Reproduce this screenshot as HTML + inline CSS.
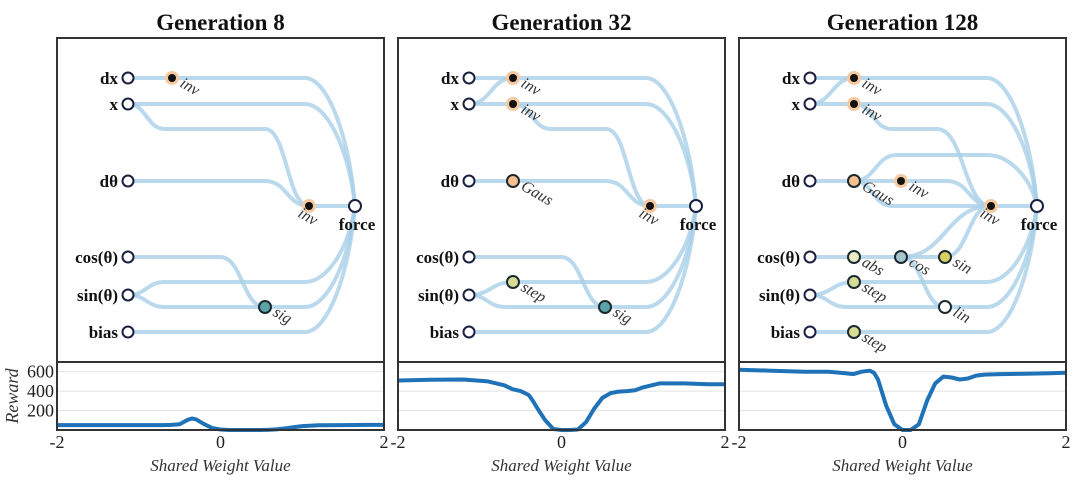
<!DOCTYPE html>
<html><head><meta charset="utf-8"><style>
body{margin:0;background:#fff;width:1080px;height:481px;overflow:hidden}
svg{display:block;font-family:"Liberation Serif",serif}
</style></head><body>
<svg id="fig" width="1080" height="481" viewBox="0 0 1080 481"></svg>
<script>
const xTicks=[-2,0,2];
const yTicks=[200,400,600];
const weights=[-2,-1.6,-1.2,-0.9,-0.7,-0.6,-0.5,-0.4,-0.35,-0.3,-0.2,-0.1,0,0.1,0.2,0.3,0.4,0.5,0.6,0.7,0.8,0.9,1,1.2,1.5,1.8,2];
const reward8=[50,50,50,50,50,52,60,105,118,110,60,20,5,0,0,0,0,0,2,8,18,30,40,48,50,52,52];
const reward32=[510,518,520,500,460,420,400,360,300,230,100,10,0,0,5,80,220,330,380,395,400,410,440,480,480,470,470];
const reward128=[620,610,600,600,585,575,600,610,590,520,250,60,0,0,60,300,480,550,540,520,530,560,570,575,580,585,590];
const titles=["Generation 8","Generation 32","Generation 128"];
const S="http://www.w3.org/2000/svg";
const svg=document.getElementById('fig');
function el(t,a,p){const e=document.createElementNS(S,t);for(const k in a)e.setAttribute(k,a[k]);(p||svg).appendChild(e);return e;}
const panels=[57,398,739], PW=327;
const inputs=[["dx",78],["x",104],["dθ",181],["cos(θ)",257],["sin(θ)",295],["bias",332]];
const IX=128, FX=355, FY=206;
const INV="#111";
const hidden=[
 {inv1:[172,78,"inv",INV],inv2:[309,206,"inv",INV],sig:[265,307,"sig","#5ba3a8"]},
 {inv1:[172,78,"inv",INV],inv1b:[172,104,"inv",INV],gaus:[172,181,"Gaus","#f5c08e"],inv2:[309,206,"inv",INV],step:[172,282,"step","#d6dc94"],sig:[264,307,"sig","#5ba3a8"]},
 {inv1:[172,78,"inv",INV],inv1b:[172,104,"inv",INV],gaus:[172,181,"Gaus","#f5c08e"],inv3:[219,181,"inv",INV],inv2:[309,206,"inv",INV],abs:[172,257,"abs","#e8ecc0"],cos:[219,257,"cos","#a8c4cc"],sin:[263,257,"sin","#d8d060"],step:[172,282,"step","#d6dc94"],lin:[263,307,"lin","#fff"],step2:[172,332,"step","#d6dc94"]}
];
const F=[FX,FY];
function routes(i,h){
 const I=k=>[IX,inputs[k][1]], H=n=>[h[n][0],h[n][1]];
 if(i===0) return [
  [I(0),H('inv1'),[305,78],F],[I(1),[305,104],F],[I(1),[165,129],[265,129],H('inv2')],
  [I(2),[265,181],H('inv2')],[H('inv2'),F],[I(3),[220,257],H('sig')],[I(4),[165,282],[305,282],F],
  [I(4),[165,307],H('sig')],[H('sig'),[305,307],F],[I(5),[305,332],F]];
 if(i===1) return [
  [I(0),H('inv1'),[305,78],F],[I(1),H('inv1b')],[I(1),H('inv1')],[H('inv1b'),[305,104],F],[H('inv1b'),[210,129],[265,129],H('inv2')],
  [I(2),H('gaus')],[H('gaus'),[265,181],H('inv2')],[H('inv2'),F],[I(3),[220,257],H('sig')],[I(4),H('step')],[H('step'),[210,282],[305,282],F],
  [I(4),[165,307],H('sig')],[H('sig'),[305,307],F],[I(5),[305,332],F]];
 return [
  [I(0),H('inv1'),[305,78],F],[I(1),H('inv1b')],[I(1),H('inv1')],[H('inv1b'),[305,104],F],[H('inv1b'),[210,129],[255,129],H('inv2')],
  [I(2),H('gaus')],[H('gaus'),[215,155],[305,155],F],[H('gaus'),H('inv3')],[H('inv3'),[265,181],H('inv2')],[H('gaus'),[210,206],H('inv2')],[H('inv2'),F],
  [I(3),H('abs')],[H('abs'),H('cos')],[H('cos'),H('sin')],[H('cos'),H('inv2')],[H('sin'),H('inv2')],[H('cos'),H('lin')],[H('lin'),[305,307],F],
  [I(4),H('step')],[H('step'),[305,282],F],[I(4),[165,307],[263,307]],[I(5),H('step2')],[H('step2'),[305,332],F]];
}
function seg(a,b){
 if(Math.abs(a[1]-b[1])<1) return ` L${b[0]},${b[1]}`;
 const dx=b[0]-a[0];
 if(b[0]===FX && b[1]===FY && Math.abs(dx)<60) return ` C${a[0]+dx*0.45},${a[1]} ${b[0]-6},${b[1]+(a[1]-b[1])*0.55} ${b[0]},${b[1]}`;
 return ` C${a[0]+dx*0.5},${a[1]} ${a[0]+dx*0.5},${b[1]} ${b[0]},${b[1]}`;
}
panels.forEach((ox,i)=>{
 const g=el('g',{transform:`translate(${ox-57},0)`});
 
 
 const t=el('text',{x:57+PW/2,y:30,'text-anchor':'middle','font-size':23,'font-weight':'bold',fill:'#111'},g);t.textContent=titles[i];
 
 el('rect',{x:57,y:38,width:PW,height:324,fill:'none',stroke:'#333','stroke-width':2},g);
 const eg=el('g',{fill:'none',stroke:'#a9cfe9','stroke-width':4,'stroke-opacity':0.8,'stroke-linecap':'round'},g);
 
 routes(i,hidden[i]).forEach(pts=>{let d=`M${pts[0][0]},${pts[0][1]}`;for(let k=1;k<pts.length;k++)d+=seg(pts[k-1],pts[k]);
  const p=el('path',{d},eg);});
 inputs.forEach(([l,y])=>{
  const c=el('circle',{cx:IX,cy:y,r:5.5,fill:'#fff',stroke:'#1a2040','stroke-width':2},g);
  
  const tx=el('text',{x:118,y:y+6,'text-anchor':'end','font-size':17,'font-weight':'bold',fill:'#111'},g);tx.textContent=l;
  
 });
 el('circle',{cx:FX,cy:FY,r:6,fill:'#fff',stroke:'#1a2040','stroke-width':2},g);
 const fl=el('text',{x:FX+2,y:FY+24,'text-anchor':'middle','font-size':17,'font-weight':'bold',fill:'#111'},g);fl.textContent='force';
 
 Object.values(hidden[i]).forEach(([x,y,l,f])=>{
  if(f===INV) el('circle',{cx:x,cy:y,r:7,fill:'#f6c9a0'},g);
  const c=el('circle',{cx:x,cy:y,r:f===INV?4:6,fill:f,stroke:f===INV?'none':'#1a2a30','stroke-width':2},g);
  
  const below=(l==='inv'&&x===309);
  const tx=el('text',{x:below?x-12:x+7,y:below?y+10:y+8,'font-size':16,'font-style':'italic',fill:'#333',transform:`rotate(30 ${below?x-12:x+7} ${below?y+10:y+8})`},g);
  tx.textContent=l;
 });
 const X0=57,X1=57+PW,Y0=430,Y1=362;
 const sx=v=>X0+(v+2)/4*(X1-X0), sy=v=>Y0-v/700*(Y0-Y1);
 yTicks.forEach(v=>{el('line',{x1:X0,x2:X1,y1:sy(v),y2:sy(v),stroke:'#e2e2e2','stroke-width':1},g);});
 if(i===0) yTicks.forEach(v=>{const tx=el('text',{x:X0-3,y:sy(v)+6,'text-anchor':'end','font-size':18,fill:'#222'},g);tx.textContent=v;});
 const ys=[reward8,reward32,reward128][i];
 let d='';weights.forEach((w,k)=>{d+=(k?' L':'M')+sx(w).toFixed(1)+','+sy(ys[k]).toFixed(1);});
 const ln=el('path',{d,fill:'none',stroke:'#1f72b8','stroke-width':4,'stroke-linejoin':'round'},g);
 
 el('rect',{x:X0,y:Y1,width:PW,height:Y0-Y1,fill:'none',stroke:'#333','stroke-width':2},g);
 xTicks.forEach(v=>{const tx=el('text',{x:sx(v),y:448,'text-anchor':'middle','font-size':18,fill:'#222'},g);tx.textContent=v;});
 const xl=el('text',{x:X0+PW/2,y:471,'text-anchor':'middle','font-size':17,'font-style':'italic',fill:'#333'},g);xl.textContent='Shared Weight Value';
 
});
const yl=el('text',{x:18,y:396,'text-anchor':'middle','font-size':18,'font-style':'italic',fill:'#333',transform:'rotate(-90 18 396)'});
yl.textContent='Reward';
</script>
</body></html>
